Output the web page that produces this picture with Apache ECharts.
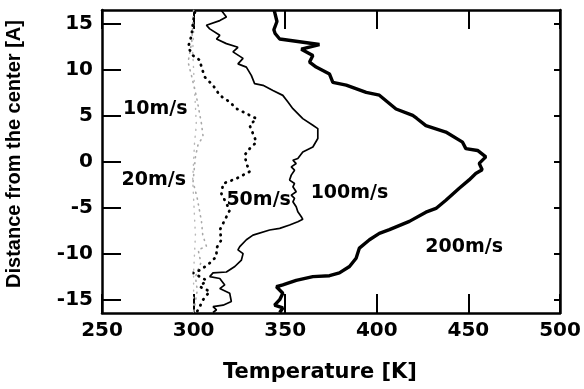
<!DOCTYPE html>
<html>
<head>
<meta charset="utf-8">
<script src="https://cdn.jsdelivr.net/npm/echarts@6/dist/echarts.min.js"></script>
<style>
  html, body { margin: 0; padding: 0; background: #fff; }
  #chart { width: 584px; height: 389px; }
</style>
</head>
<body>
<div id="chart"></div>
<script>
// Temperature profiles across the channel for several flow speeds.
// Each point is [temperature (K), distance from the center (A)].
const yTickValues = [-15, -10, -5, 0, 5, 10, 15];
const xRange = [250, 500];
const yRange = [-16.45, 16.45];

const profile10 = [
  [300, 16.4], [300, 14], [299.5, 12], [300, 10], [300.5, 8], [301, 6],
  [301.5, 4], [300.5, 2], [300, 0], [299.5, -2], [300, -4], [300.5, -6],
  [301, -8], [300.5, -10], [300, -12], [300, -14], [300, -16.4]
];

const profile20 = [
  [300, 16.4], [299, 13], [297, 10.8], [299, 9.2], [301.6, 7], [303, 5.5],
  [304.3, 4.1], [305.2, 2.7], [302.5, 1.9], [301, 0.5], [299.7, -2.2],
  [302, -4], [304.3, -6.5], [305, -8], [307, -9.2], [302.5, -9.6],
  [304, -11], [301, -12.5], [302, -14], [300, -16.4]
];

const profile50 = [
  [300.7, 16.2], [299.7, 15.1], [298.9, 13.7], [297, 12.4], [299.7, 11.5],
  [303.4, 11.0], [304.3, 10.25], [306.1, 9.17], [310.6, 8.27], [314.3, 7.18],
  [319.7, 6.46], [323.4, 5.74], [328.8, 5.2], [334.3, 4.66], [330.6, 3.93],
  [332.4, 3.03], [334.3, 2.1], [330.6, 1.4], [327.9, 0.7], [328.8, -0.2],
  [330.6, -1.1], [323.4, -1.85], [316.1, -2.4], [315.2, -3.5], [317.9, -4.55],
  [319.7, -5.3], [317, -6.36], [314.3, -7.44], [315.2, -8.5], [312.5, -9.4],
  [312.5, -10.3], [307.9, -11.2], [303.4, -11.8], [299.7, -12.1], [307, -12.9],
  [303.4, -13.6], [308.8, -14.1], [305.2, -15], [303.4, -15.75], [301.6, -16.4]
];

const profile100 = [
  [315.2, 16.4], [317.9, 15.7], [314.3, 15.3], [307, 14.8], [308.8, 14.4],
  [314.3, 13.7], [312.5, 13.3], [317.9, 12.8], [324.2, 12.4], [321.5, 11.9],
  [327, 11.2], [324.2, 10.6], [328.8, 10.25], [331.5, 9.35], [333.3, 8.45],
  [337.9, 8.27], [343.3, 7.72], [348.7, 7.18], [351.5, 6.46], [354.2, 5.74],
  [359.6, 4.66], [365.1, 3.93], [367.8, 3.57], [367.8, 2.5], [365.1, 1.58],
  [359.6, 1.04], [356.9, 0.33], [354.2, 0.14], [356.0, -0.22], [353.3, -0.58],
  [355.1, -0.94], [353.3, -1.48], [352.4, -2.02], [355.1, -2.38], [354.2, -2.75],
  [356.0, -3.29], [353.3, -3.65], [355.1, -4.01], [354.2, -4.38], [356.0, -4.92],
  [356.9, -5.46], [358.8, -6.0], [359.6, -6.28], [356.9, -6.54], [352.4, -6.9],
  [347.0, -7.26], [341.5, -7.44], [332.4, -8.0], [328.8, -8.5], [325.2, -9.25],
  [324.2, -9.6], [327, -10.0], [326.1, -10.7], [322.5, -11.4], [317.9, -12.0],
  [310.6, -12.1], [308.8, -12.5], [314.3, -12.7], [317, -13.4], [314.3, -13.8],
  [319.7, -14.3], [320.6, -15.2], [316.1, -15.6], [310.6, -15.75], [312.5, -16.1],
  [310.6, -16.4]
];

const profile200 = [
  [344, 16.4], [345.5, 15.2], [343.8, 14.3], [344.5, 13.9], [347, 13.3],
  [368.7, 12.7], [358.8, 12.2], [365.1, 11.5], [363.3, 10.8], [366.9, 10.25],
  [374.2, 9.5], [376, 8.6], [383.3, 8.3], [394.2, 7.5], [401.4, 7.2],
  [410.5, 5.7], [419.6, 5.0], [421.7, 4.7], [426.8, 3.9], [437.7, 3.2],
  [446.8, 2.1], [448.6, 1.4], [455, 1.2], [459.5, 0.5], [455.9, -0.2],
  [457.5, -0.9], [454, -1.3], [450.4, -2.0], [445, -2.9], [437.7, -4.2],
  [432.3, -5.1], [426.8, -5.5], [417.8, -6.5], [406.9, -7.4], [401.4, -7.8],
  [396, -8.5], [390.5, -9.4], [388.7, -10.5], [385.1, -11.4], [379.6, -12.1],
  [374.2, -12.4], [365.1, -12.5], [356, -12.9], [348.7, -13.4], [345.2, -13.6],
  [348.7, -14.3], [347, -15.0], [344.2, -15.6], [348.7, -15.9], [347, -16.4]
];

// Curve captions, anchored in data coordinates
const captionText = ['10m/s', '20m/s', '50m/s', '100m/s', '200m/s'];
const captionPos = [[279.1, 5.74], [278.3, -2.03], [335.5, -4.2], [385.1, -3.4], [447.7, -9.25]];

const chart = echarts.init(document.getElementById('chart'));

const labelFont = { fontFamily: 'DejaVu Sans', fontWeight: 'bold', fontSize: 20, color: '#000' };
const frameLine = { show: true, onZero: false, lineStyle: { color: '#000', width: 2.5 } };
const innerTick = { show: true, inside: true, length: 19, lineStyle: { color: '#000', width: 2 } };

function lineSeries(name, data, style) {
  return {
    name, type: 'line', data, showSymbol: false, symbol: 'none',
    animation: false, silent: true, lineStyle: style, z: 3
  };
}

chart.setOption({
  animation: false,
  backgroundColor: '#fff',
  grid: { left: 102, right: 24, top: 10, bottom: 76, containLabel: false },
  xAxis: [
    {
      type: 'value', min: xRange[0], max: xRange[1], interval: 50,
      axisLine: frameLine, axisTick: innerTick, splitLine: { show: false },
      axisLabel: Object.assign({ margin: 8 }, labelFont)
    },
    {
      type: 'value', position: 'top', min: xRange[0], max: xRange[1], interval: 50,
      axisLine: frameLine, axisTick: innerTick, splitLine: { show: false },
      axisLabel: { show: false }
    }
  ],
  yAxis: [
    {
      type: 'value', min: yRange[0], max: yRange[1],
      axisLine: frameLine,
      axisTick: Object.assign({ customValues: yTickValues }, innerTick),
      splitLine: { show: false },
      axisLabel: Object.assign({ customValues: yTickValues, margin: 9 }, labelFont)
    },
    {
      type: 'value', position: 'right', min: yRange[0], max: yRange[1],
      axisLine: frameLine,
      axisTick: Object.assign({ customValues: yTickValues }, innerTick, { length: 6 }),
      splitLine: { show: false },
      axisLabel: { show: false }
    }
  ],
  series: [
    lineSeries('10m/s', profile10, { color: '#b8b8b8', width: 1.4, type: [1, 6], cap: 'round' }),
    lineSeries('20m/s', profile20, { color: '#a8a8a8', width: 1.6, type: [1, 5], cap: 'round' }),
    lineSeries('50m/s', profile50, { color: '#000', width: 2.8, type: [0.5, 6], cap: 'round' }),
    lineSeries('100m/s', profile100, { color: '#000', width: 1.7 }),
    lineSeries('200m/s', profile200, { color: '#000', width: 3.4 })
  ]
});

// Axis titles and curve captions
const graphics = [
  {
    type: 'text', x: 320, y: 373,
    style: { text: 'Temperature [K]', font: 'bold 21px "DejaVu Sans"', fill: '#000', align: 'center', verticalAlign: 'middle' }
  },
  {
    type: 'text', x: 14, y: 154, rotation: Math.PI / 2,
    style: { text: 'Distance from the center [A]', font: 'bold 20px "Liberation Sans"', fill: '#000', align: 'center', verticalAlign: 'middle' }
  }
];
captionText.forEach(function (txt, i) {
  const p = chart.convertToPixel({ gridIndex: 0 }, captionPos[i]);
  graphics.push({
    type: 'text', x: p[0], y: p[1], z: 10,
    style: { text: txt, font: 'bold 19px "DejaVu Sans"', fill: '#000', align: 'center', verticalAlign: 'middle' }
  });
});
chart.setOption({ graphic: graphics });
</script>
</body>
</html>
